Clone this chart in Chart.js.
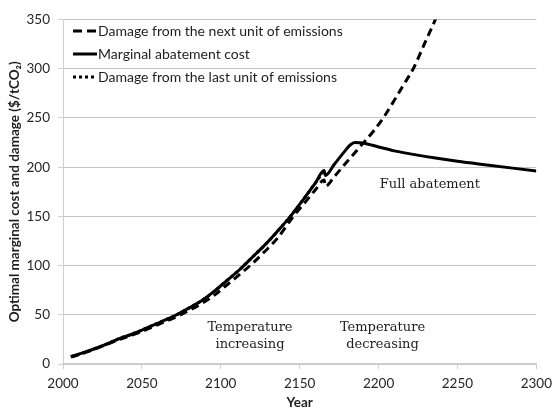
<!DOCTYPE html>
<html>
<head>
<meta charset="utf-8">
<script src="https://cdn.jsdelivr.net/npm/chart.js@4"></script>
<style>
html,body{margin:0;padding:0;background:#ffffff;}
#wrap{width:559px;height:409px;}
</style>
</head>
<body>
<div id="wrap"><canvas id="c" width="559" height="409"></canvas></div>
<script>
// ---------- data ----------
const seriesNames = [
  'Damage from the next unit of emissions',
  'Marginal abatement cost',
  'Damage from the last unit of emissions'
];

const nextYears  = [2005, 2012, 2020, 2028, 2036, 2044, 2050, 2058, 2066, 2072, 2080, 2088, 2096, 2104, 2112, 2120, 2128, 2136, 2146, 2152, 2160, 2165.5, 2166.3, 2172, 2180, 2190, 2197, 2203, 2210, 2216, 2222, 2229, 2236, 2242];
const nextValues = [7, 10.5, 15, 20, 25, 29.5, 33, 38.5, 44, 48, 54.5, 61.5, 70, 80.5, 91, 102, 114.5, 128, 150, 161.5, 177, 187, 180.5, 190.5, 205.5, 224, 237, 250, 268, 284, 300, 325, 350, 374];

const macYears  = [2005, 2012, 2020, 2028, 2036, 2044, 2050, 2058, 2066, 2072, 2080, 2088, 2096, 2104, 2112, 2120, 2128, 2136, 2144, 2152, 2160, 2165.5, 2166.3, 2172, 2178, 2182, 2185, 2190, 2200, 2210, 2220, 2235, 2250, 2270, 2285, 2300];
const macValues = [7.5, 11, 15.5, 20.5, 26, 30.5, 34.5, 40, 45.5, 50, 57, 64.5, 74, 85, 96, 108.5, 121, 135, 149.7, 166.5, 184, 196.5, 191.5, 203, 215, 222.5, 225, 224.5, 220.5, 216.5, 213.5, 209.5, 206, 202, 199, 196];

const lastYears  = [2005, 2012, 2020, 2028, 2036, 2044, 2050, 2058, 2066, 2072, 2080, 2088, 2096, 2104, 2112, 2120, 2128, 2136, 2144, 2152, 2160, 2165.5];
const lastValues = [7.5, 11, 15.5, 20.5, 26, 30.5, 34.5, 40, 45.5, 50, 57, 64.5, 74, 85, 96, 108.5, 121, 135, 149.7, 166.5, 184, 196.5];

const xTickValues = [2000, 2050, 2100, 2150, 2200, 2250, 2300];
const yTickValues = [0, 50, 100, 150, 200, 250, 300, 350];

const xTitle = 'Year';
const yTitle = 'Optimal marginal cost and damage ($/tCO\u2082)';

const noteTexts = [['Temperature', 'increasing'], ['Temperature', 'decreasing'], ['Full abatement']];
const noteYears = [2118.5, 2202.5, 2232.5];
const noteValues = [37, 37, 182.5];

// ---------- helpers ----------
function pairs(xs, ys) { return xs.map((x, i) => ({ x: x, y: ys[i] })); }

const legendPlugin = {
  id: 'insideLegend',
  afterDraw(chart) {
    const ctx = chart.ctx;
    const area = chart.chartArea;
    ctx.save();
    chart.data.datasets.forEach((ds, i) => {
      const y = area.top + 11.5 + i * 23;
      const x0 = area.left + 10;
      const len = 24;
      ctx.beginPath();
      ctx.lineWidth = ds.borderWidth;
      ctx.strokeStyle = ds.borderColor;
      ctx.setLineDash(ds.legendDash || []);
      ctx.lineCap = 'butt';
      ctx.moveTo(x0, y);
      ctx.lineTo(x0 + len, y);
      ctx.stroke();
      ctx.setLineDash([]);
      ctx.fillStyle = '#1e1e1e';
      ctx.font = '14px Lato';
      ctx.textAlign = 'left';
      ctx.textBaseline = 'middle';
      ctx.fillText(ds.label, x0 + len + 1, y);
    });
    ctx.restore();
  }
};

const notesPlugin = {
  id: 'notes',
  afterDatasetsDraw(chart) {
    const ctx = chart.ctx;
    const xs = chart.scales.x, ys = chart.scales.y;
    ctx.save();
    ctx.fillStyle = '#1e1e1e';
    ctx.font = '13px "DejaVu Serif"';
    ctx.textAlign = 'center';
    ctx.textBaseline = 'middle';
    noteTexts.forEach((lines, i) => {
      const px = xs.getPixelForValue(noteYears[i]);
      const py = ys.getPixelForValue(noteValues[i]);
      lines.forEach((t, j) => ctx.fillText(t, px, py + j * 17.5));
    });
    ctx.restore();
  }
};

Chart.defaults.font.family = 'Lato';
Chart.defaults.color = '#262626';

new Chart(document.getElementById('c'), {
  type: 'line',
  data: {
    datasets: [
      {
        label: seriesNames[0],
        data: pairs(nextYears, nextValues),
        borderColor: '#000000',
        borderWidth: 3,
        borderDash: [8, 5],
        legendDash: [9, 5],
        pointRadius: 0,
        cubicInterpolationMode: 'monotone',
        order: 2
      },
      {
        label: seriesNames[1],
        data: pairs(macYears, macValues),
        borderColor: '#000000',
        borderWidth: 3,
        borderJoinStyle: 'round',
        legendDash: [],
        pointRadius: 0,
        cubicInterpolationMode: 'monotone',
        order: 1
      },
      {
        label: seriesNames[2],
        data: pairs(lastYears, lastValues),
        borderColor: '#000000',
        borderWidth: 3,
        borderDash: [3, 3],
        legendDash: [3, 3],
        pointRadius: 0,
        cubicInterpolationMode: 'monotone',
        order: 3
      }
    ]
  },
  options: {
    responsive: false,
    animation: false,
    devicePixelRatio: 1,
    layout: { padding: { left: 0, right: 16, top: 19.5, bottom: 0 } },
    plugins: {
      legend: { display: false },
      tooltip: { enabled: false }
    },
    scales: {
      x: {
        type: 'linear',
        min: xTickValues[0],
        max: xTickValues[xTickValues.length - 1],
        afterBuildTicks: (s) => { s.ticks = xTickValues.map(v => ({ value: v })); },
        afterFit: (s) => { s.height = 45; },
        ticks: {
          padding: 7,
          font: { size: 13.5 },
          color: '#262626',
          maxRotation: 0,
          callback: (v) => String(v)
        },
        grid: {
          drawOnChartArea: false,
          drawTicks: true,
          tickLength: 5,
          tickColor: '#d0d0d0',
          tickWidth: 1
        },
        border: { display: true, color: '#d0d0d0', width: 1.5 },
        title: {
          display: true,
          text: xTitle,
          font: { size: 13.5, weight: 'bold', lineHeight: 1 },
          color: '#1e1e1e',
          padding: { top: 0, bottom: 0 }
        }
      },
      y: {
        type: 'linear',
        min: yTickValues[0],
        max: yTickValues[yTickValues.length - 1],
        afterBuildTicks: (s) => { s.ticks = yTickValues.map(v => ({ value: v })); },
        afterFit: (s) => { s.width = 63; },
        ticks: {
          padding: 8,
          font: { size: 13.5 },
          color: '#262626'
        },
        grid: {
          drawOnChartArea: true,
          drawTicks: true,
          tickLength: 5,
          color: '#c4c4c4',
          lineWidth: 1,
          borderDash: [3, 2],
          tickColor: '#d0d0d0',
          tickBorderDash: [],
          tickWidth: 1
        },
        border: { display: true, color: '#d0d0d0', width: 1 },
        title: {
          display: true,
          text: yTitle,
          font: { size: 13.5, weight: 'bold', lineHeight: 1.2 },
          color: '#1e1e1e',
          padding: { top: 7, bottom: 0 }
        }
      }
    }
  },
  plugins: [legendPlugin, notesPlugin]
});
</script>
</body>
</html>
